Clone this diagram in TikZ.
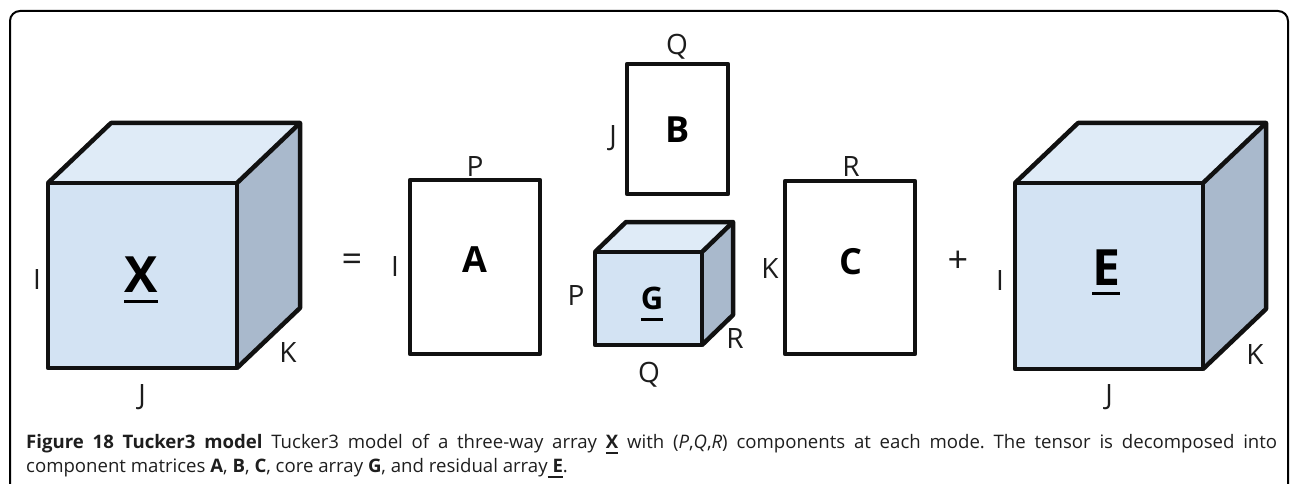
\documentclass[tikz,border=0pt]{standalone}
\usepackage{fontspec}
\setmainfont{Open Sans}
\frenchspacing

\definecolor{frontblue}{HTML}{D3E3F3}
\definecolor{topblue}{HTML}{DFEBF7}
\definecolor{sideblue}{HTML}{A9B9CC}
\definecolor{inkline}{HTML}{111111}
\definecolor{labelink}{HTML}{1C1C1C}
\definecolor{capink}{HTML}{1E1E1E}

% underlined text: #1 depth of the rule's lower edge, #2 rule thickness
\newcommand\ulmark[3]{\setbox0\hbox{#3}\rlap{\smash{\rule[-#1]{\wd0}{#2}}}\box0\relax}

% shaded box: front face (#1,#2)-(#3,#4), receding by #5 right and #6 up
\newcommand\tensorcube[6]{%
  \path[fill=topblue] (#1,#2) -- (#1+#5,#2-#6) -- (#3+#5,#2-#6) -- (#3,#2) -- cycle;
  \path[fill=sideblue] (#3,#2) -- (#3+#5,#2-#6) -- (#3+#5,#4-#6) -- (#3,#4) -- cycle;
  \path[fill=frontblue] (#1,#2) rectangle (#3,#4);
  \draw[edge] (#1,#2) rectangle (#3,#4);
  \draw[edge] (#1,#2) -- (#1+#5,#2-#6) -- (#3+#5,#2-#6) -- (#3+#5,#4-#6) -- (#3,#4);
  \draw[edge] (#3,#2) -- (#3+#5,#2-#6);
}

\begin{document}
\begin{tikzpicture}[x=1pt,y=-1pt,
  edge/.style={draw=inkline, line width=4.5pt, line join=round},
  matrixbox/.style={draw=inkline, line width=4.5pt, line join=round, fill=white},
  dimlabel/.style={inner sep=0pt, text=labelink, font=\fontsize{28}{28}\selectfont},
  oplabel/.style={inner sep=0pt, text=labelink, font=\fontsize{36}{36}\selectfont},
  namelabel/.style={inner sep=0pt, text=black, font=\fontsize{36}{36}\selectfont\bfseries},
  caption/.style={inner sep=0pt, anchor=base west, text=capink, font=\fontsize{18.6}{24}\selectfont},
]
\useasboundingbox (0,0) rectangle (1292,484);
\clip (0,0) rectangle (1292,484);

% frame
\draw[line width=2pt, rounded corners=10pt] (10,11) rectangle (1288,540);

% data array X
\tensorcube{48}{183}{237}{368}{63}{60}
\node[namelabel, font=\fontsize{50}{50}\selectfont\bfseries] (X) at (141,275) {\ulmark{10.5pt}{3pt}{X}};
\node[dimlabel] (XI) at (37,280) {I};
\node[dimlabel] (XJ) at (142,397) {J};
\node[dimlabel] (XK) at (288,353) {K};

\node[oplabel] (eq) at (352,263) {=};

% component matrix A
\draw[matrixbox] (410,180) rectangle (540,354);
\node[namelabel] (A) at (475,260) {A};
\node[dimlabel] (AP) at (475,167) {P};
\node[dimlabel] (AI) at (395,267) {I};

% component matrix B
\draw[matrixbox] (627,64) rectangle (728,194);
\node[namelabel] (B) at (678,130) {B};
\node[dimlabel] (BQ) at (677,47) {Q};
\node[dimlabel] (BJ) at (613,138) {J};

% core array G
\tensorcube{595}{252}{702}{345}{31}{30}
\node[namelabel, font=\fontsize{31}{31}\selectfont\bfseries] (G) at (652,298) {\ulmark{11.5pt}{3pt}{G}};
\node[dimlabel] (GP) at (576,296) {P};
\node[dimlabel] (GQ) at (649,375) {Q};
\node[dimlabel] (GR) at (735,339) {R};

% component matrix C
\draw[matrixbox] (785,181) rectangle (915,354);
\node[namelabel] (C) at (851,262) {C};
\node[dimlabel] (CR) at (851,167) {R};
\node[dimlabel] (CK) at (770,269) {K};

\node[oplabel] (plus) at (958,262) {+};

% residual array E
\tensorcube{1015}{183}{1203}{369}{63}{60}
\node[namelabel, font=\fontsize{50}{50}\selectfont\bfseries] (E) at (1106,268) {\ulmark{9.5pt}{3pt}{E}};
\node[dimlabel] (EI) at (1000,281) {I};
\node[dimlabel] (EJ) at (1109,397) {J};
\node[dimlabel] (EK) at (1255,355) {K};

% caption
\node[caption] (cap1) at (26,448) {\makebox[1251pt][s]{\textbf{Figure 18 Tucker3 model} Tucker3 model of a three-way array \ulmark{6pt}{2.5pt}{\textbf{X}} with (\textit{P},\textit{Q},\textit{R}) components at each mode. The tensor is decomposed into}};
\node[caption] (cap2) at (26,472) {component matrices \textbf{A}, \textbf{B}, \textbf{C}, core array \textbf{G}, and residual array\ulmark{6pt}{2.5pt}{\ \textbf{E}}.};
\end{tikzpicture}
\end{document}
